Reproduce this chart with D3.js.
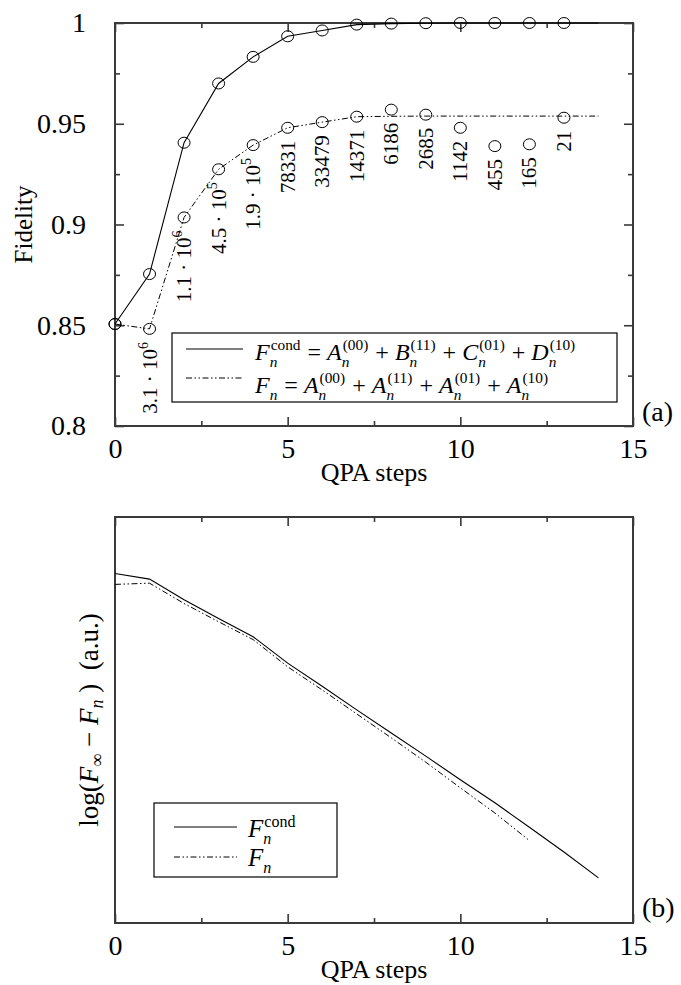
<!DOCTYPE html>
<html><head><meta charset="utf-8">
<script src="https://cdn.jsdelivr.net/npm/d3@7/dist/d3.min.js"></script>
<style>
html,body{margin:0;padding:0;background:#fff;}
svg{display:block;font-family:"Liberation Serif","Times New Roman",serif;}
text{white-space:pre;}
</style></head>
<body>
<svg id="chart" width="681" height="985"></svg>
<script>
// ---------- data ----------
const steps = [0,1,2,3,4,5,6,7,8,9,10,11,12,13,14];
const circleSteps = [0,1,2,3,4,5,6,7,8,9,10,11,12,13];
// panel (a): fidelity
const fcondLine = [0.8506,0.8754,0.9406,0.970,0.9832,0.9934,0.9963,0.9992,0.9997,0.9999,1.0,1.0,1.0,1.0,1.0];
const fcondCircles = [0.8506,0.8754,0.9406,0.970,0.9832,0.9934,0.9963,0.9992,0.9997,0.9999,1.0,1.0,1.0,1.0];
const fnLine = [0.8506,0.8482,0.9035,0.9274,0.9394,0.948,0.9508,0.9535,0.9537,0.9538,0.9538,0.9538,0.9538,0.9538,0.9538];
const fnCircles = [0.8506,0.8482,0.9035,0.9274,0.9394,0.948,0.9508,0.9535,0.957,0.9545,0.948,0.9389,0.9398,0.953];
const labelSteps = [1,2,3,4,5,6,7,8,9,10,11,12,13];
const labelMant = ["3.1","1.1","4.5","1.9","78331","33479","14371","6186","2685","1142","455","165","21"];
const labelExp = ["6","6","5","5",null,null,null,null,null,null,null,null,null];
// panel (b): log(F_inf - F_n), arbitrary units
const stepsCond = [0,1,2,3,4,5,6,7,8,9,10,11,12,13,14];
const logCond = [8.61,8.47,7.96,7.50,7.05,6.40,5.83,5.25,4.68,4.11,3.53,2.96,2.36,1.75,1.11];
const stepsFn = [0,1,2,3,4,5,6,7,8,9,10,11,12];
const logFn = [8.34,8.37,7.87,7.42,6.98,6.31,5.74,5.15,4.56,3.96,3.33,2.71,2.03];
// ticks
const xMajor = [0,5,10,15];
const xMinor = [2.5,7.5,12.5];
const yMajorA = [0.8,0.85,0.9,0.95,1];
const yMinorA = [0.825,0.875,0.925,0.975];

// ---------- drawing ----------
const svg = d3.select("#chart");
const FONT = "Liberation Serif";
const frameCol = "#3a3a3a";
const dashDot = "6,2.5,1.5,2.5,1.5,2.5";
const SP = "\u00a0";

const x = d3.scaleLinear().domain([0,15]).range([115,633]);
const yA = d3.scaleLinear().domain([0.8,1]).range([426,23]);
const yB = d3.scaleLinear().domain([0,10]).range([923,517]);

function mathText(g, x0, y0, parts, fs){
  let cx = x0;
  parts.forEach(p=>{
    let w = 0;
    if(p.t){
      const t = g.append("text").attr("x",cx).attr("y",y0).attr("font-size",fs)
        .attr("font-style",p.it?"italic":"normal").text(p.t);
      w = t.node().getComputedTextLength();
    }
    cx += w;
    let sw = 0;
    if(p.sup){
      const s = g.append("text").attr("x",cx+1).attr("y",y0-0.42*fs).attr("font-size",fs*0.64)
        .text(p.sup);
      sw = Math.max(sw, s.node().getComputedTextLength()+2);
    }
    if(p.sub){
      const s = g.append("text").attr("x",cx).attr("y",y0+0.28*fs).attr("font-size",fs*0.64)
        .attr("font-style","italic").text(p.sub);
      sw = Math.max(sw, s.node().getComputedTextLength()+1);
    }
    cx += sw;
  });
  return cx - x0;
}

function styleAxis(a){
  a.attr("font-family",FONT);
  a.select(".domain").remove();
  a.selectAll("text").attr("font-size",28).attr("font-family",FONT).attr("fill","#000");
}

function frame(yScale, top, bottom, withY){
  const g = svg.append("g");
  g.append("g").attr("transform",`translate(0,${bottom})`)
    .call(d3.axisBottom(x).tickValues(xMajor).tickSizeInner(-9).tickSizeOuter(0).tickPadding(12).tickFormat(d3.format("d")))
    .call(styleAxis);
  g.append("g").attr("transform",`translate(0,${bottom})`)
    .call(d3.axisBottom(x).tickValues(xMinor).tickSizeInner(-5).tickSizeOuter(0).tickFormat(""))
    .call(styleAxis);
  g.append("g").attr("transform",`translate(0,${top})`)
    .call(d3.axisTop(x).tickValues(xMajor).tickSizeInner(-9).tickSizeOuter(0).tickFormat(""))
    .call(styleAxis);
  g.append("g").attr("transform",`translate(0,${top})`)
    .call(d3.axisTop(x).tickValues(xMinor).tickSizeInner(-5).tickSizeOuter(0).tickFormat(""))
    .call(styleAxis);
  if(withY){
    g.append("g").attr("transform",`translate(${x(0)},0)`)
      .call(d3.axisLeft(yScale).tickValues(yMajorA).tickSizeInner(-9).tickSizeOuter(0).tickPadding(29).tickFormat(d3.format("~g")))
      .call(styleAxis);
    g.append("g").attr("transform",`translate(${x(0)},0)`)
      .call(d3.axisLeft(yScale).tickValues(yMinorA).tickSizeInner(-5).tickSizeOuter(0).tickFormat(""))
      .call(styleAxis);
    g.append("g").attr("transform",`translate(${x(15)},0)`)
      .call(d3.axisRight(yScale).tickValues(yMajorA).tickSizeInner(-9).tickSizeOuter(0).tickFormat(""))
      .call(styleAxis);
    g.append("g").attr("transform",`translate(${x(15)},0)`)
      .call(d3.axisRight(yScale).tickValues(yMinorA).tickSizeInner(-5).tickSizeOuter(0).tickFormat(""))
      .call(styleAxis);
  }
  g.selectAll(".tick line").attr("stroke",frameCol).attr("stroke-width",1.6);
  g.append("rect").attr("x",x(0)).attr("y",top).attr("width",x(15)-x(0)).attr("height",bottom-top)
    .attr("fill","none").attr("stroke",frameCol).attr("stroke-width",2);
  svg.append("text").attr("x",(x(0)+x(15))/2).attr("y",bottom+55).attr("text-anchor","middle")
    .attr("font-size",26).text("QPA steps");
}

// ----- panel (a) -----
frame(yA, yA(1), yA(0.8), true);
const lineA = (vals)=> d3.line().x((d,i)=>x(steps[i])).y(d=>yA(d))(vals);
svg.append("path").attr("d",lineA(fcondLine)).attr("fill","none").attr("stroke","#000").attr("stroke-width",1.1);
svg.append("path").attr("d",lineA(fnLine)).attr("fill","none").attr("stroke","#000").attr("stroke-width",1).attr("stroke-dasharray",dashDot);
svg.append("g").selectAll("ellipse").data(fcondCircles).join("ellipse")
  .attr("cx",(d,i)=>x(circleSteps[i])).attr("cy",d=>yA(d)).attr("rx",6).attr("ry",5.5)
  .attr("fill","none").attr("stroke","#000").attr("stroke-width",1);
svg.append("g").selectAll("ellipse").data(fnCircles).join("ellipse")
  .attr("cx",(d,i)=>x(circleSteps[i])).attr("cy",d=>yA(d)).attr("rx",6).attr("ry",5.5)
  .attr("fill","none").attr("stroke","#000").attr("stroke-width",1);
// rotated count labels
labelSteps.forEach((s,i)=>{
  const px = x(s), py = yA(fnCircles[s]) + 13;
  const t = svg.append("text").attr("font-size",21).attr("text-anchor","end")
    .attr("transform",`translate(${px+7},${py}) rotate(-90)`);
  if(labelExp[i]){
    t.append("tspan").text(labelMant[i]+SP+"\u00b7"+SP+"10");
    t.append("tspan").attr("font-size",14).attr("dy",-9).text(labelExp[i]);
  } else {
    t.text(labelMant[i]);
  }
});
// legend (a)
const legA = svg.append("g");
legA.append("rect").attr("x",172).attr("y",333).attr("width",445).attr("height",69)
  .attr("fill","#fff").attr("stroke","#000").attr("stroke-width",1.2);
legA.append("line").attr("x1",186).attr("x2",243).attr("y1",349).attr("y2",349).attr("stroke","#000").attr("stroke-width",1.1);
legA.append("line").attr("x1",186).attr("x2",243).attr("y1",378).attr("y2",378).attr("stroke","#000").attr("stroke-width",1).attr("stroke-dasharray",dashDot);
const EQ = SP+"="+SP, PL = SP+"+"+SP;
mathText(legA, 255, 360, [
  {t:"F",it:true,sup:"cond",sub:"n"},{t:EQ},
  {t:"A",it:true,sup:"(00)",sub:"n"},{t:PL},
  {t:"B",it:true,sup:"(11)",sub:"n"},{t:PL},
  {t:"C",it:true,sup:"(01)",sub:"n"},{t:PL},
  {t:"D",it:true,sup:"(10)",sub:"n"}], 24);
mathText(legA, 255, 393, [
  {t:"F",it:true,sub:"n"},{t:EQ},
  {t:"A",it:true,sup:"(00)",sub:"n"},{t:PL},
  {t:"A",it:true,sup:"(11)",sub:"n"},{t:PL},
  {t:"A",it:true,sup:"(01)",sub:"n"},{t:PL},
  {t:"A",it:true,sup:"(10)",sub:"n"}], 24);
// y label (a)
svg.append("text").attr("transform",`translate(32,${(yA(1)+yA(0.8))/2}) rotate(-90)`)
  .attr("text-anchor","middle").attr("font-size",25).text("Fidelity");
svg.append("text").attr("x",642).attr("y",421).attr("font-size",28).text("(a)");

// ----- panel (b) -----
frame(yB, yB(10), yB(0), false);
svg.append("path").attr("d",d3.line().x((d,i)=>x(stepsCond[i])).y(d=>yB(d))(logCond))
  .attr("fill","none").attr("stroke","#000").attr("stroke-width",1.1);
svg.append("path").attr("d",d3.line().x((d,i)=>x(stepsFn[i])).y(d=>yB(d))(logFn))
  .attr("fill","none").attr("stroke","#000").attr("stroke-width",1).attr("stroke-dasharray",dashDot);
const legB = svg.append("g");
legB.append("rect").attr("x",154).attr("y",803).attr("width",183).attr("height",74)
  .attr("fill","#fff").attr("stroke","#000").attr("stroke-width",1.2);
legB.append("line").attr("x1",174).attr("x2",237).attr("y1",827).attr("y2",827).attr("stroke","#000").attr("stroke-width",1.1);
legB.append("line").attr("x1",174).attr("x2",237).attr("y1",857).attr("y2",857).attr("stroke","#000").attr("stroke-width",1).attr("stroke-dasharray",dashDot);
mathText(legB, 248, 837, [{t:"F",it:true,sup:"cond",sub:"n"}], 25);
mathText(legB, 248, 866, [{t:"F",it:true,sub:"n"}], 25);
// y label (b)
const yl = svg.append("text").attr("transform",`translate(98,${(yB(10)+yB(0))/2}) rotate(-90)`)
  .attr("text-anchor","middle").attr("font-size",27);
yl.append("tspan").text("log(");
yl.append("tspan").attr("font-style","italic").text("F");
yl.append("tspan").attr("font-size",18).attr("dy",5).text("\u221e");
yl.append("tspan").attr("dy",-5).text(SP+"\u2212"+SP);
yl.append("tspan").attr("font-style","italic").text("F");
yl.append("tspan").attr("font-size",18).attr("font-style","italic").attr("dy",5).text("n");
yl.append("tspan").attr("dy",-5).text(SP+")"+SP+SP+"(a.u.)");
svg.append("text").attr("x",642).attr("y",917).attr("font-size",28).text("(b)");
</script>
</body></html>
